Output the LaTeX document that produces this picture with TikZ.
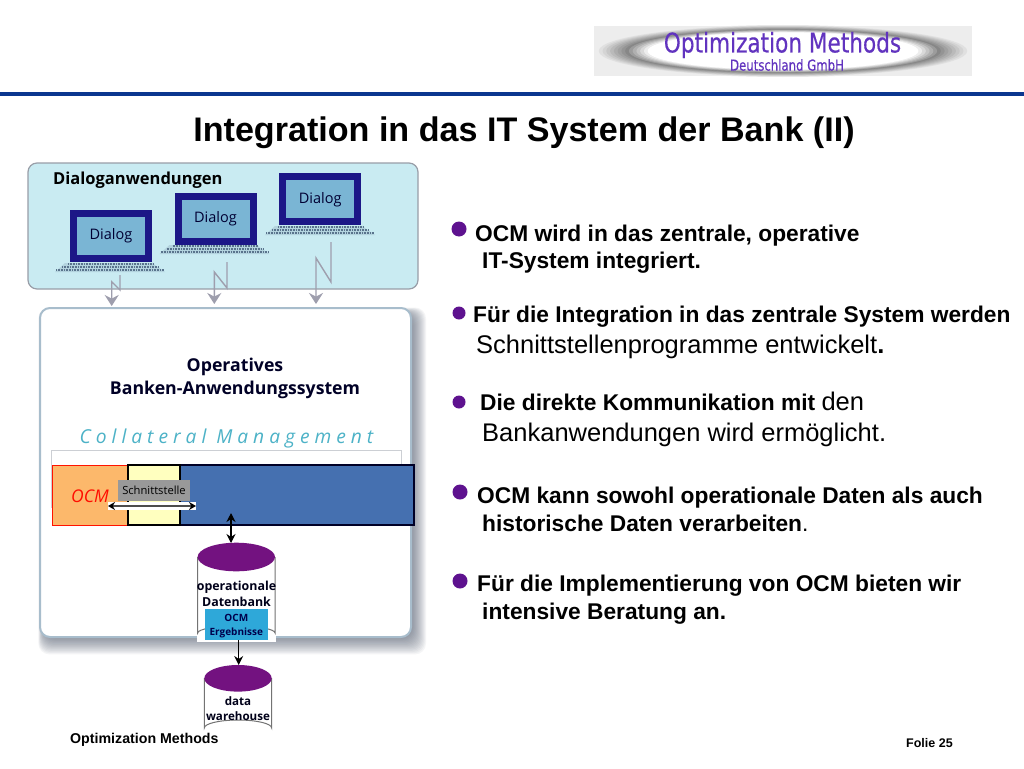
\documentclass[tikz,border=0pt]{standalone}
\usepackage{fontspec}
\setmainfont{Liberation Sans}
\newfontfamily\panelfont{Open Sans}
\newfontfamily\logofont[FakeBold=0.5]{DejaVu Sans}
\usetikzlibrary{arrows.meta}
\definecolor{barblue}{rgb}{0.04,0.21,0.56}
\definecolor{bulletpurple}{rgb}{0.37,0.07,0.56}
\definecolor{dbpurple}{rgb}{0.45,0.07,0.50}
\definecolor{panelcyan}{rgb}{0.79,0.92,0.95}
\definecolor{panelgray}{rgb}{0.60,0.62,0.66}
\definecolor{panelblue}{rgb}{0.66,0.74,0.80}
\definecolor{arrowgray}{rgb}{0.62,0.62,0.68}
\definecolor{screenblue}{rgb}{0.48,0.71,0.83}
\definecolor{framenavy}{rgb}{0.11,0.09,0.53}
\definecolor{keydots}{rgb}{0.35,0.45,0.55}
\definecolor{cmteal}{rgb}{0.30,0.70,0.78}
\definecolor{ocmorange}{rgb}{0.99,0.72,0.42}
\definecolor{ifyellow}{rgb}{1.00,1.00,0.75}
\definecolor{appblue}{rgb}{0.27,0.44,0.69}
\definecolor{ergblue}{rgb}{0.18,0.66,0.85}
\definecolor{logoviolet}{rgb}{0.38,0.20,0.75}
\definecolor{logoback}{rgb}{0.93,0.93,0.93}
\definecolor{shadowgray}{rgb}{0.25,0.30,0.38}
\tikzset{
  bodybold/.style={anchor=base west,inner sep=0pt,font=\fontsize{22.75}{26}\bfseries\selectfont},
  bodylarge/.style={anchor=base west,inner sep=0pt,font=\fontsize{25.5}{29}\selectfont},
  bulletdot/.style={fill=bulletpurple,draw=none},
  graydown/.style={draw=arrowgray,line width=1.4pt,-{Stealth[length=11pt,width=14pt]}},
  screenbox/.style={draw=framenavy,line width=7pt,fill=screenblue,minimum width=75pt,minimum height=45pt,inner sep=0pt,font=\panelfont\fontsize{14.5}{16}\selectfont,text=black!80!blue},
  keydotted/.style={keydots,line width=1.2pt,dash pattern=on 1pt off .6pt},
  dbtext/.style={inner sep=0pt,align=center,text=black!90!blue},
  cylside/.style={draw=black!55,fill=white,line width=1pt},
  blackarrow/.style={draw=black,line width=1.2pt,{Stealth[length=9pt,width=9pt]}-{Stealth[length=9pt,width=9pt]}}
}
\begin{document}
\begin{tikzpicture}[x=1pt,y=-1pt]
\useasboundingbox (0,0) rectangle (1024,768);
\fill[white] (0,0) rectangle (1024,768);
% logo
\fill[logoback] (594,26) rectangle (972,76);
\foreach \ringstep in {0,...,15}{
  \pgfmathsetmacro{\ringscale}{1-\ringstep*.02}
  \pgfmathsetmacro{\ringdark}{\ringstep<8 ? 7+\ringstep*5 : max(0,47-(\ringstep-8)*8)}
  \fill[black!\ringdark!white] (783,51) ellipse ({188*\ringscale} and {26*\ringscale});
}
\node[inner sep=0pt,text=logoviolet,xscale=.8,font=\logofont\fontsize{27}{30}\selectfont] (logomain) at (782.5,45) {Optimization Methods};
\node[inner sep=0pt,text=logoviolet,xscale=.78,font=\logofont\fontsize{15}{18}\selectfont] (logosub) at (787,65) {Deutschland GmbH};
% title
\fill[barblue] (0,92) rectangle (1024,96);
\node[inner sep=0pt,font=\fontsize{34.1}{38}\bfseries\selectfont] (title) at (524,132.5) {Integration in das IT System der Bank (II)};
% upper panel
\draw[panelgray,fill=panelcyan,line width=1.2pt,rounded corners=9pt] (28,163) rectangle (418,289);
\node[anchor=base west,inner sep=0pt,font=\panelfont\bfseries\fontsize{16.5}{18}\selectfont] (dialogtitle) at (53,184) {Dialoganwendungen};
\foreach \kx/\ky in {110/267,214.5/249,320/230}{
  \fill[panelcyan!80!keydots] (\kx-45,\ky-4) -- (\kx+42,\ky-4) -- (\kx+55,\ky+5) -- (\kx-55,\ky+5) -- cycle;
  \draw[keydotted] (\kx-42,\ky-3) -- (\kx+43,\ky-3);
  \draw[keydotted] (\kx-48,\ky) -- (\kx+49,\ky);
  \draw[keydotted] (\kx-54,\ky+3) -- (\kx+54,\ky+3);
}
\node[screenbox] (dlgA) at (111,235.5) {Dialog};
\node[screenbox] (dlgB) at (215.5,218.8) {Dialog};
\node[screenbox] (dlgC) at (320.2,199.3) {Dialog};
% zigzag arrows to the lower panel
\coordinate (zigAs) at (120,275);
\coordinate (zigAe) at (111.7,306);
\coordinate (zigBs) at (227,262);
\coordinate (zigBe) at (214.3,304);
\coordinate (zigCs) at (331,242);
\coordinate (zigCe) at (316,304);
% lower panel
\foreach \sh in {1,...,17}{
  \fill[shadowgray,opacity=.05,rounded corners=11pt] (46-\sh*.45,316-\sh*.5) rectangle (409+\sh,634+\sh*1.2);
}
\draw[panelblue,fill=white,line width=2pt,rounded corners=10pt] (40,308) rectangle (411,637);
\draw[graydown] (zigAs) -- (120,290) -- (111.7,281.7) -- (zigAe);
\draw[graydown] (zigBs) -- (227,288) -- (214.3,272) -- (zigBe);
\draw[graydown] (zigCs) -- (331,282) -- (316,258) -- (zigCe);
\node[inner sep=0pt,align=center,font=\panelfont\bfseries\fontsize{17.7}{22.5}\selectfont,text=black!85!blue] (opsystem) at (235,378.5) {Operatives\\Banken-Anwendungssystem};
\node[inner sep=0pt,text=cmteal,font=\panelfont\itshape\fontsize{19.2}{22}\selectfont] (cmtitle) at (226.5,439) {C o l l a t e r a l\ \ M a n a g e m e n t};
\draw[panelgray!50,fill=white,line width=.8pt] (51,450) rectangle (401,507);
\draw[black!85!blue,fill=appblue,line width=1.3pt] (180,465) rectangle (414,525);
\draw[red!85!orange,fill=ocmorange,line width=1pt] (52,465) rectangle (128,525);
\draw[black,fill=ifyellow,line width=1.8pt] (128,465) rectangle (180,525);
\node[inner sep=0pt,text=red!90!orange,font=\panelfont\itshape\fontsize{17.5}{20}\selectfont] (ocm) at (90,496) {OCM};
\node[fill=gray!80,minimum width=72pt,minimum height=21pt,inner sep=0pt,font=\panelfont\fontsize{11.2}{13}\selectfont] (iface) at (154,490) {Schnittstelle};
\fill[white] (108,502) rectangle (196,510);
\coordinate (barL) at (108,506);
\coordinate (barR) at (196,506);
\draw[black!70,line width=1.2pt,{Stealth[length=7pt,width=8pt,black]}-{Stealth[length=7pt,width=8pt,black]}] (barL) -- (barR);
% operational database
\fill[white] (197,630) rectangle (276,642);
\draw[cylside] (197.7,557) -- (197.7,633) arc[start angle=180,end angle=360,x radius=38.7,y radius=7] -- (275,557);
\fill[dbpurple] (236.3,557) ellipse (38.7 and 14.3);
\coordinate (dbAtop) at (231,543);
\coordinate (appbot) at (231,513);
\draw[blackarrow] (appbot) -- (dbAtop);
\node[dbtext,font=\panelfont\bfseries\fontsize{12.4}{16}\selectfont] (dbA) at (236.5,594) {operationale\\Datenbank};
\node[fill=ergblue,minimum width=63pt,minimum height=31pt,inner sep=0pt] (erg) at (236.3,624.5) {};
\node[inner sep=0pt,align=center,text=black!70!blue,font=\panelfont\bfseries\fontsize{10}{13.5}\selectfont] (ergtext) at (236.3,626) {OCM\\Ergebnisse};
% warehouse
\node[anchor=base west,inner sep=0pt,font=\fontsize{14.2}{16}\bfseries\selectfont] (footL) at (70,743) {Optimization Methods};
\draw[cylside] (204.3,678) -- (204.3,728) arc[start angle=180,end angle=360,x radius=33.7,y radius=8] -- (271.7,678);
\fill[dbpurple] (238,678.3) ellipse (33.7 and 13.3);
\node[dbtext,font=\panelfont\bfseries\fontsize{11.6}{15}\selectfont] (dbB) at (238,708.5) {data\\warehouse};
\coordinate (dbAbot) at (238.7,640);
\coordinate (dbBtop) at (238.7,665);
\draw[black,line width=1.2pt,-{Stealth[length=9pt,width=9pt]}] (dbAbot) -- (dbBtop);
\node[anchor=base west,inner sep=0pt,font=\fontsize{12.5}{14}\bfseries\selectfont] (footR) at (906,747) {Folie 25};
% bullets
\foreach \bx/\by/\br in {459/229/7.5,459/313/6.5,459/402/6.5,460/492/7.5,460/581/7.5}{
  \fill[bulletdot] (\bx,\by) circle (\br);
}
\node[bodybold] (lineA) at (475,241) {OCM wird in das zentrale, operative};
\node[bodybold] (lineB) at (482,268) {IT-System integriert.};
\node[bodybold] (lineC) at (473,322) {Für die Integration in das zentrale System werden};
\node[bodylarge] (lineD) at (476,353) {Schnittstellenprogramme entwickelt\textbf{.}};
\node[bodybold] (lineE) at (480,410) {Die direkte Kommunikation mit {\mdseries\fontsize{25.5}{29}\selectfont den}};
\node[bodylarge] (lineF) at (482,441) {Bankanwendungen wird ermöglicht.};
\node[bodybold] (lineG) at (477,503) {OCM kann sowohl operationale Daten als auch};
\node[bodybold] (lineH) at (482,531) {historische Daten verarbeiten{\mdseries.}};
\node[bodybold] (lineI) at (477,591) {Für die Implementierung von OCM bieten wir};
\node[bodybold] (lineJ) at (482,619) {intensive Beratung an.};
\end{tikzpicture}
\end{document}
